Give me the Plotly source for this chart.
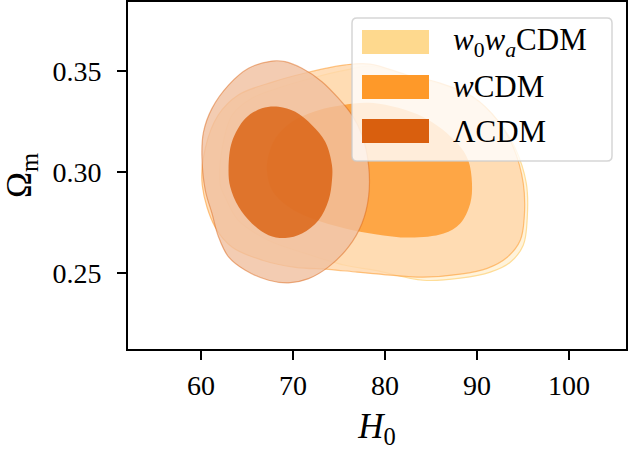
import plotly.graph_objects as go

# ---------------- data ----------------
# w0waCDM 2-sigma contour
w0wa_outer_h0 = [62.10, 62.32, 63.40, 65.58, 68.40, 72.10, 75.68, 78.40, 82.42, 86.01, 89.60, 92.32, 94.16,
                 95.36, 95.47, 95.03, 93.62, 91.45, 88.18, 84.16, 78.95, 75.68, 71.34, 67.32, 64.05, 62.64]
w0wa_outer_om = [0.2934, 0.3117, 0.3281, 0.3365, 0.3414, 0.3464, 0.3503, 0.3523, 0.3474, 0.3434, 0.3365, 0.3251, 0.3117,
                 0.2944, 0.2776, 0.2637, 0.2553, 0.2504, 0.2474, 0.2464, 0.2513, 0.2538, 0.2597, 0.2662, 0.2761, 0.2875]

# wCDM 2-sigma contour
wcdm_outer_h0 = [60.14, 60.47, 61.88, 64.05, 67.75, 71.34, 75.68, 78.40, 82.42, 86.01, 89.60, 92.21, 93.95, 95.03,
                 95.14, 94.71, 93.29, 91.12, 88.18, 84.16, 80.58, 76.99, 73.84, 70.25, 66.66, 63.40, 61.55]
wcdm_outer_om = [0.2934, 0.3117, 0.3281, 0.3380, 0.3444, 0.3489, 0.3529, 0.3533, 0.3479, 0.3439, 0.3370, 0.3256, 0.3122, 0.2944,
                 0.2776, 0.2662, 0.2578, 0.2523, 0.2494, 0.2479, 0.2489, 0.2504, 0.2518, 0.2528, 0.2563, 0.2627, 0.2726]

# wCDM 1-sigma contour
wcdm_inner_h0 = [67.17, 67.35, 68.08, 69.89, 72.78, 75.33, 78.73, 84.16, 87.86, 89.05, 89.46, 89.27, 88.18, 86.37,
                 82.75, 78.95, 75.68, 72.07, 69.52, 67.72]
wcdm_inner_om = [0.3008, 0.3083, 0.3165, 0.3248, 0.3305, 0.3330, 0.3340, 0.3271, 0.3142, 0.3058, 0.2943, 0.2844, 0.2745, 0.2695,
                 0.2675, 0.2692, 0.2720, 0.2769, 0.2827, 0.2909]

# LCDM 2-sigma contour
lcdm_outer_h0 = [60.10, 60.28, 61.20, 63.00, 65.17, 67.72, 69.16, 70.98, 73.15, 74.96, 76.41, 77.50, 78.22, 78.22, 77.50,
                 76.04, 73.87, 71.70, 69.52, 67.35, 64.82, 63.00, 61.91, 61.20, 60.47]
lcdm_outer_om = [0.3083, 0.3198, 0.3314, 0.3429, 0.3512, 0.3548, 0.3545, 0.3512, 0.3446, 0.3363, 0.3281, 0.3182, 0.3033, 0.2876, 0.2745,
                 0.2629, 0.2530, 0.2472, 0.2451, 0.2464, 0.2513, 0.2579, 0.2678, 0.2794, 0.2909]

# LCDM 1-sigma contour
lcdm_inner_h0 = [63.00, 63.37, 64.82, 66.63, 68.43, 70.25, 72.07, 73.51, 74.24, 74.24, 73.87, 72.78, 70.98, 69.16,
                 67.35, 65.54, 64.09, 63.18]
lcdm_inner_om = [0.3017, 0.3149, 0.3264, 0.3314, 0.3322, 0.3297, 0.3231, 0.3149, 0.3033, 0.2959, 0.2860, 0.2761, 0.2695, 0.2673,
                 0.2687, 0.2745, 0.2827, 0.2926]

legend_labels = ["<i>w</i><sub>0</sub><i>w</i><sub><i>a</i></sub>CDM", "<i>w</i>CDM", "ΛCDM"]
x_ticks = [60, 70, 80, 90, 100]
y_ticks = [0.25, 0.30, 0.35]
y_tick_text = ["0.25", "0.30", "0.35"]

# ---------------- styles ----------------
C_W0WA = (254, 217, 142)
C_WCDM = (254, 153, 41)
C_LCDM = (217, 95, 14)
ALPHA = 0.8


def pale(c, f=0.6):
    return tuple(v * (1 - f) + 255 * f for v in c)


def rgba(c, a):
    return "rgba(%d,%d,%d,%.3f)" % (round(c[0]), round(c[1]), round(c[2]), a)


def closed(xs):
    return list(xs) + [xs[0]]


fig = go.Figure()


def add_contour(xs, ys, fill, line, lw):
    fig.add_trace(go.Scatter(
        x=closed(xs), y=closed(ys), mode="lines", fill="toself",
        fillcolor=fill, line=dict(color=line, width=lw, shape="spline", smoothing=1.0),
        hoverinfo="skip", showlegend=False))


add_contour(w0wa_outer_h0, w0wa_outer_om, rgba(pale(C_W0WA), ALPHA), rgba(C_W0WA, 0.9), 1.2)
add_contour(wcdm_outer_h0, wcdm_outer_om, rgba(pale(C_WCDM), ALPHA), rgba(C_WCDM, 0.55), 1.2)
add_contour(wcdm_inner_h0, wcdm_inner_om, rgba(C_WCDM, ALPHA), rgba(C_WCDM, 0.0), 0.5)
add_contour(lcdm_outer_h0, lcdm_outer_om, rgba(pale(C_LCDM), ALPHA), rgba(C_LCDM, 0.45), 1.2)
add_contour(lcdm_inner_h0, lcdm_inner_om, rgba(C_LCDM, ALPHA), rgba(C_LCDM, 0.0), 0.5)

# ---------------- layout ----------------
W, H = 644, 450
ML, MR, MT, MB = 128, 18, 2, 101
PW, PH = W - ML - MR, H - MT - MB


def xp(px):
    return (px - ML) / PW


def yp(py):
    return (H - MB - py) / PH


FONT = "Liberation Serif, Times New Roman, serif"

shapes = []
# legend frame (rounded)
x0, x1, y0, y1, r = 352, 612, 18, 161, 5
rx, ry = r / PW, r / PH
X0, X1, Y0, Y1 = xp(x0), xp(x1), yp(y1), yp(y0)
path = (f"M {X0+rx},{Y0} L {X1-rx},{Y0} Q {X1},{Y0} {X1},{Y0+ry} L {X1},{Y1-ry} Q {X1},{Y1} {X1-rx},{Y1} "
        f"L {X0+rx},{Y1} Q {X0},{Y1} {X0},{Y1-ry} L {X0},{Y0+ry} Q {X0},{Y0} {X0+rx},{Y0} Z")
shapes.append(dict(type="path", path=path, xref="paper", yref="paper", layer="above",
                   fillcolor="rgba(255,255,255,0.8)", line=dict(color="rgba(204,204,204,0.8)", width=1.5)))
rows = [(30, 54), (75, 99), (119, 143)]
annotations = []
for (ra, rb), col, lab in zip(rows, [C_W0WA, C_WCDM, C_LCDM], legend_labels):
    shapes.append(dict(type="rect", xref="paper", yref="paper", layer="above",
                       x0=xp(362), x1=xp(429), y0=yp(rb), y1=yp(ra),
                       fillcolor=rgba(col, 1), line=dict(width=0)))
    annotations.append(dict(x=xp(451), y=yp((ra + rb) / 2), xref="paper", yref="paper",
                            text=lab, showarrow=False, xanchor="left", yanchor="middle",
                            font=dict(family=FONT, size=31, color="black")))

axis_common = dict(showline=True, linecolor="black", linewidth=1.8, mirror=True,
                   ticks="outside", ticklen=9, tickwidth=1.6, tickcolor="black",
                   showgrid=False, zeroline=False,
                   tickfont=dict(family=FONT, size=28, color="black"))

fig.update_layout(
    width=W, height=H,
    margin=dict(l=ML, r=MR, t=MT, b=MB, autoexpand=False),
    paper_bgcolor="white", plot_bgcolor="white",
    xaxis=dict(range=[52.07, 106.2], tickvals=x_ticks, ticktext=[str(v) for v in x_ticks],
               title=dict(text="<i>H</i><sub>0</sub>", font=dict(family=FONT, size=35, color="black"), standoff=16),
               ticklabelstandoff=1, **axis_common),
    yaxis=dict(range=[0.2124, 0.384], tickvals=y_ticks, ticktext=y_tick_text,
               title=dict(text="Ω<sub>m</sub>", font=dict(family=FONT, size=35, color="black"), standoff=12),
               ticklabelstandoff=10, **axis_common),
    shapes=shapes, annotations=annotations,
)

fig.write_html("out.html")
